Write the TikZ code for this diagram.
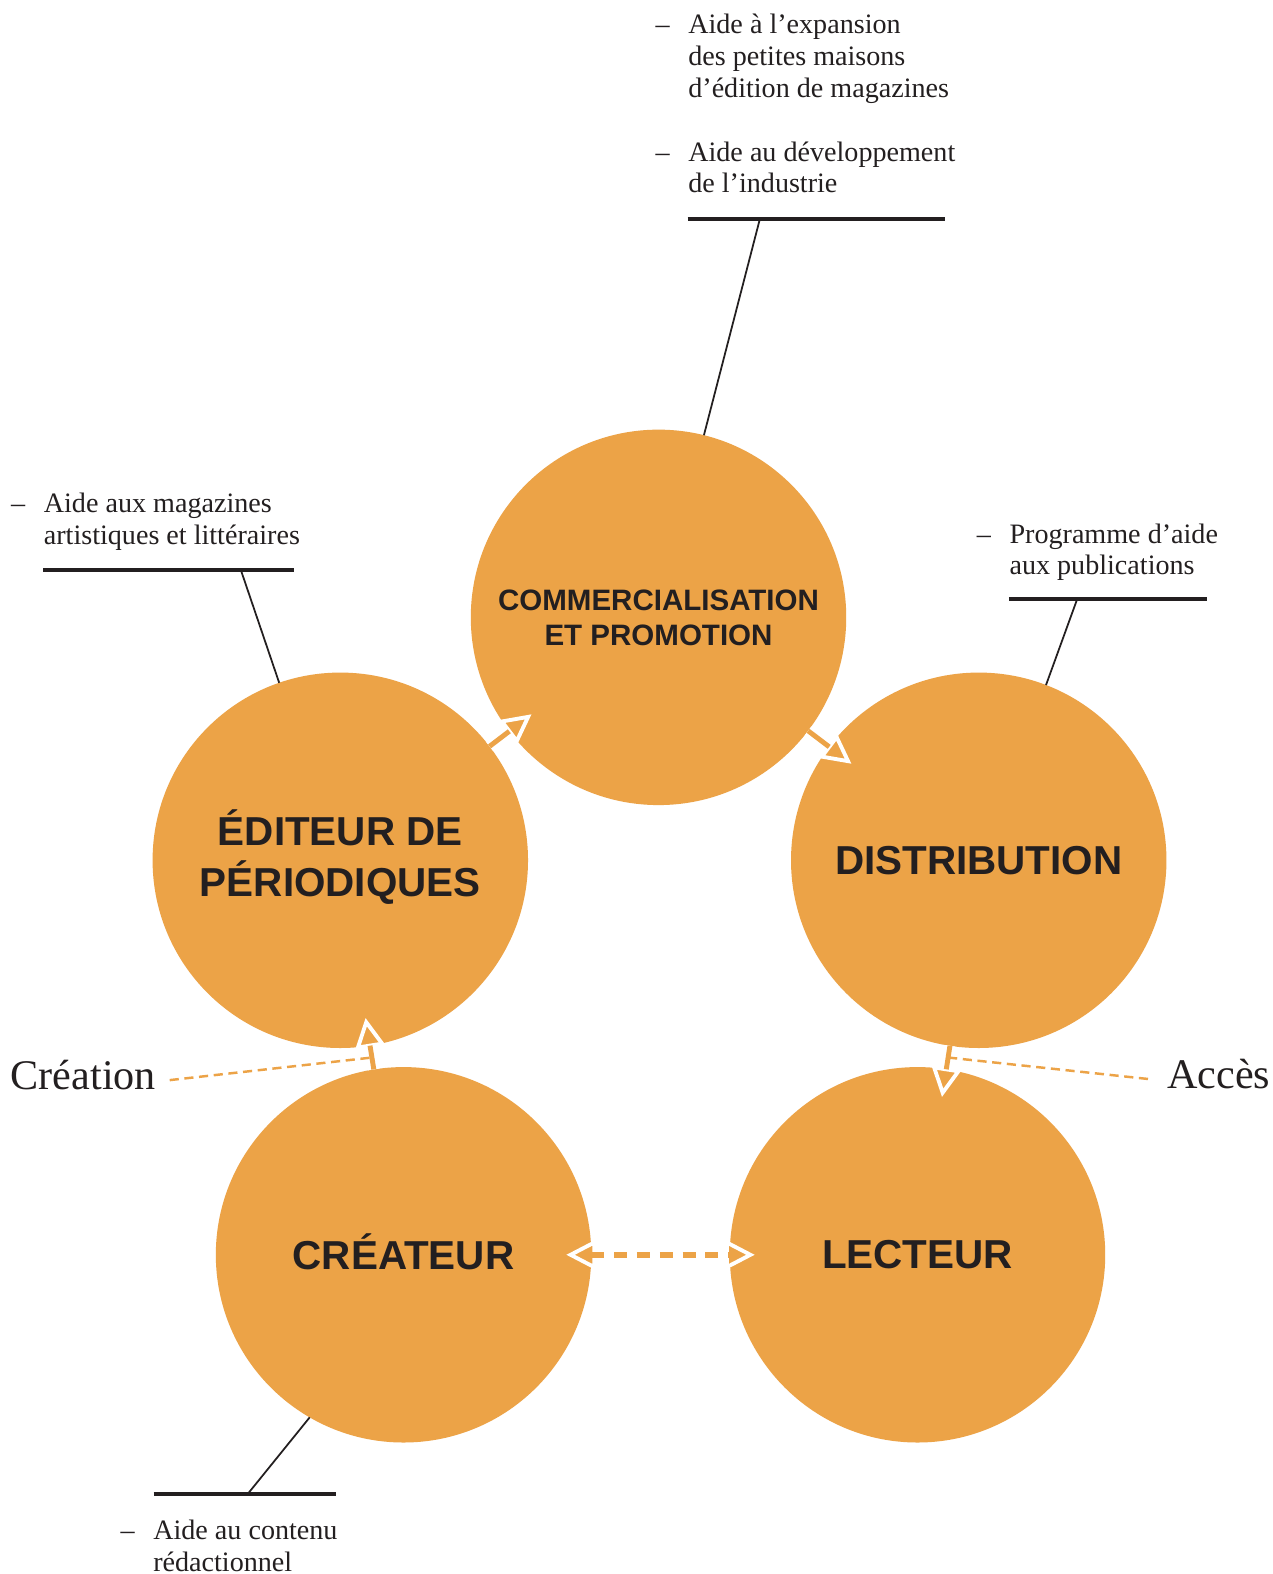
\documentclass[tikz,border=0pt]{standalone}
\usepackage{fontspec}
\setmainfont{Liberation Serif}
\setsansfont{Liberation Sans}
\usetikzlibrary{arrows.meta,calc}

\definecolor{ocre}{RGB}{236,163,71}
\definecolor{ink}{RGB}{35,31,32}
\newcommand{\itemdash}{\llap{–\hspace{5.3pt}}}

\tikzset{
  stage/.style={circle, fill=ocre, inner sep=0pt, outer sep=0pt, minimum size=3.755cm,
    align=center, text=ink, font=\sffamily\bfseries\fontsize{11.5}{13.7}\selectfont},
  note/.style={inner sep=0pt, anchor=base west, text=ink, font=\fontsize{8}{9.07}\selectfont},
  bigword/.style={inner sep=0pt, text=ink, font=\fontsize{12}{14}\selectfont},
  rulebar/.style={ink, line width=1.1pt},
  leader/.style={ink, line width=0.5pt},
  tipw/.tip={Triangle[open, fill=ocre, length=8.5pt, width=8.5pt, line width=1.1pt]},
  halo/.style={white, line width=3.2pt, shorten >=-2.8mm, -tipw},
  stem/.style={ocre, line width=1.4pt, shorten >=0mm},
  hint/.style={ocre, line width=0.7pt, dash pattern=on 2.6pt off 1.6pt}
}

\begin{document}
\begin{tikzpicture}[x=0.01004cm, y=-0.01004cm]
  \useasboundingbox (0,0) rectangle (1268,1568);
  \fill[white] (0,0) rectangle (1268,1568);

  % the five stages
  \node[stage, font=\sffamily\bfseries\fontsize{8.4}{9.97}\selectfont] (com) at (656,615) {COMMERCIALISATION\\ET PROMOTION};
  \node[stage] (edi) at (339,857) {\raisebox{2pt}{\begin{tabular}{@{}c@{}}ÉDITEUR DE\\PÉRIODIQUES\end{tabular}}};
  \node[stage] (dis) at (975,857) {DISTRIBUTION};
  \node[stage] (cre) at (402,1250) {\raisebox{2pt}{CRÉATEUR}};
  \node[stage] (lec) at (914,1250) {LECTEUR};

  % cycle arrows
  \foreach \a/\b in {edi/com, com/dis, dis/lec, cre/edi} {
    \draw[halo] (\a) -- (\b);
    \draw[stem] (\a) -- (\b);
  }
  \draw[white, line width=1.6pt, tipw-tipw, shorten <=-2.5mm, shorten >=-2.5mm] (cre) -- (lec);
  \draw[ocre, line width=1.6pt, dash pattern=on 3.7pt off 2.8pt] (cre) -- (lec);

  % programme notes
  \node[note] (topnote) at (685,33.5) {\begin{tabular}[t]{@{}l@{}}\itemdash Aide à l’expansion\\des petites maisons\\d’édition de magazines\\[9.07pt]\itemdash Aide au développement\\de l’industrie\end{tabular}};
  \node[note] (leftnote) at (43,511) {\begin{tabular}[t]{@{}l@{}}\itemdash Aide aux magazines\\artistiques et littéraires\end{tabular}};
  \node[note] (rightnote) at (1005,541) {\begin{tabular}[t]{@{}l@{}}\itemdash Programme d’aide\\aux publications\end{tabular}};
  \node[note] (botnote) at (152,1534) {\begin{tabular}[t]{@{}l@{}}\itemdash Aide au contenu\\rédactionnel\end{tabular}};

  \draw[rulebar] (685,218) -- (941,218);
  \draw[rulebar] (43,568) -- (293,568);
  \draw[rulebar] (1005,597) -- (1202,597);
  \draw[rulebar] (153,1488) -- (335,1488);
  \coordinate (toptick) at (757,218);
  \coordinate (lefttick) at (240,568);
  \coordinate (righttick) at (1073,597);
  \coordinate (bottick) at (247,1488);
  \draw[leader] (toptick) -- (com.76);
  \draw[leader] (lefttick) -- (edi.109);
  \draw[leader] (righttick) -- (dis.69);
  \draw[leader] (bottick) -- (cre.240);

  % creation / access
  \node[bigword, anchor=base west] (crea) at (10,1085) {Création};
  \node[bigword, anchor=base] (acc) at (1214,1084) {Accès};
  \coordinate (creamid) at ($(cre)!0.5!(edi)$);
  \coordinate (accmid) at ($(dis)!0.5!(lec)$);
  \draw[hint] ([shift={(13,-9)}]crea.base east) -- (creamid);
  \draw[hint] (accmid) -- ([shift={(-17,-9)}]acc.base west);
\end{tikzpicture}
\end{document}
